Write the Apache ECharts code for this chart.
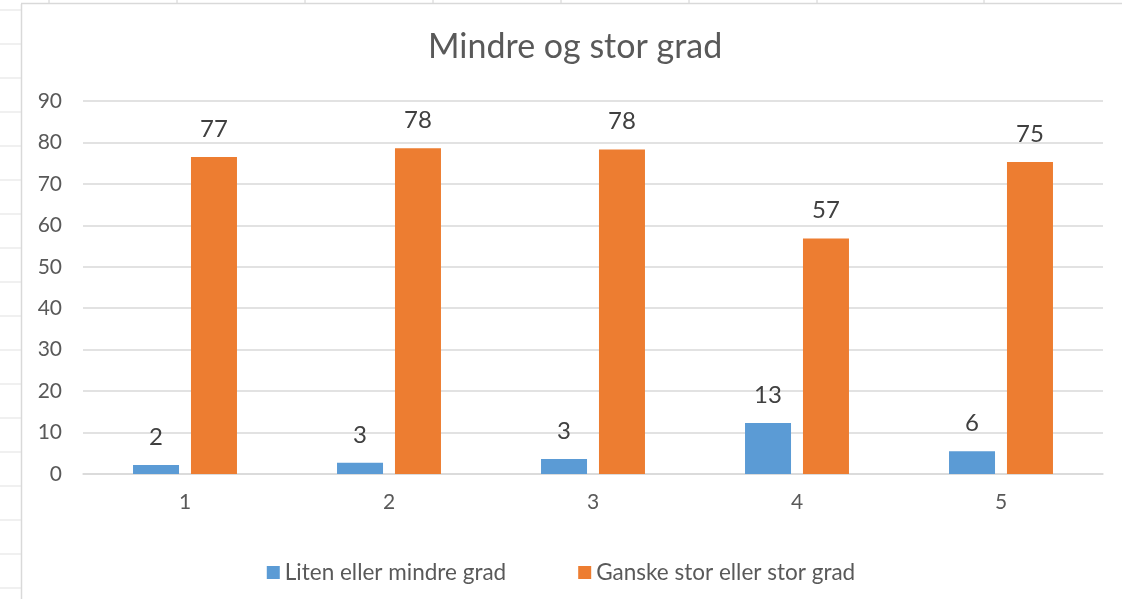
<!DOCTYPE html>
<html>
<head>
<meta charset="utf-8">
<script src="https://cdn.jsdelivr.net/npm/echarts@6/dist/echarts.min.js"></script>
<style>
  html, body { margin: 0; padding: 0; background: #ffffff; }
  #chart { width: 1122px; height: 599px; }
</style>
</head>
<body>
<div id="chart"></div>
<script>
// categories + series (bar heights, labels as printed)
var categories = ['1', '2', '3', '4', '5'];
var litenValues = [2.2, 2.7, 3.6, 12.3, 5.5];
var storValues = [76.5, 78.6, 78.3, 56.8, 75.3];
var litenLabels = ['2', '3', '3', '13', '6'];
var storLabels = ['77', '78', '78', '57', '75'];
var seriesNames = ['Liten eller mindre grad', 'Ganske stor eller stor grad'];

var FONT = 'Lato, "Open Sans", sans-serif';
var textColor = '#595959';
var lineColor = '#d9d9d9';

// spreadsheet cells around the chart object (just decoration)
var sheetLines = [];
for (var y = 10; y < 599; y += 34) {
  sheetLines.push({ type: 'line', shape: { x1: 0, y1: y, x2: 21, y2: y }, style: { stroke: '#e1e1e1', lineWidth: 1 }, silent: true });
}
[49, 177, 305, 433, 561, 689, 817, 984].forEach(function (x) {
  sheetLines.push({ type: 'line', shape: { x1: x, y1: 0, x2: x, y2: 4 }, style: { stroke: '#d0d0d0', lineWidth: 1 }, silent: true });
});
// chart border
sheetLines.push({ type: 'line', shape: { x1: 21.5, y1: 4, x2: 21.5, y2: 599 }, style: { stroke: lineColor, lineWidth: 1.5 }, silent: true });
sheetLines.push({ type: 'line', shape: { x1: 21, y1: 3.5, x2: 1122, y2: 3.5 }, style: { stroke: lineColor, lineWidth: 1.5 }, silent: true });

function makeLabel(texts) {
  return {
    show: true,
    position: 'top',
    distance: 16,
    fontFamily: FONT,
    fontSize: 24,
    color: '#404040',
    formatter: function (p) { return texts[p.dataIndex]; }
  };
}

var chart = echarts.init(document.getElementById('chart'));
chart.setOption({
  animation: false,
  backgroundColor: '#ffffff',
  title: {
    text: 'Mindre og stor grad',
    left: 423,
    top: 25,
    textStyle: { fontFamily: FONT, fontSize: 34, fontWeight: 'normal', color: textColor }
  },
  legend: {
    data: seriesNames,
    bottom: 10,
    left: 'center',
    icon: 'rect',
    itemWidth: 13,
    itemHeight: 13,
    itemGap: 72,
    textStyle: { fontFamily: FONT, fontSize: 22.5, color: textColor }
  },
  grid: { left: 83, right: 19, top: 101, bottom: 125 },
  xAxis: {
    type: 'category',
    data: categories,
    axisLine: { lineStyle: { color: lineColor, width: 1.5 } },
    axisTick: { show: false },
    axisLabel: { fontFamily: FONT, fontSize: 21, color: textColor, margin: 18 }
  },
  yAxis: {
    type: 'value',
    min: 0,
    max: 90,
    interval: 10,
    axisLine: { show: false },
    axisTick: { show: false },
    axisLabel: { fontFamily: FONT, fontSize: 21, color: textColor, margin: 21 },
    splitLine: { lineStyle: { color: lineColor, width: 1.5 } }
  },
  graphic: sheetLines,
  series: [
    {
      name: seriesNames[0],
      type: 'bar',
      data: litenValues,
      barWidth: 46,
      barGap: '26%',
      itemStyle: { color: '#5b9bd5' },
      label: makeLabel(litenLabels)
    },
    {
      name: seriesNames[1],
      type: 'bar',
      data: storValues,
      barWidth: 46,
      itemStyle: { color: '#ed7d31' },
      label: makeLabel(storLabels)
    }
  ]
});
</script>
</body>
</html>
